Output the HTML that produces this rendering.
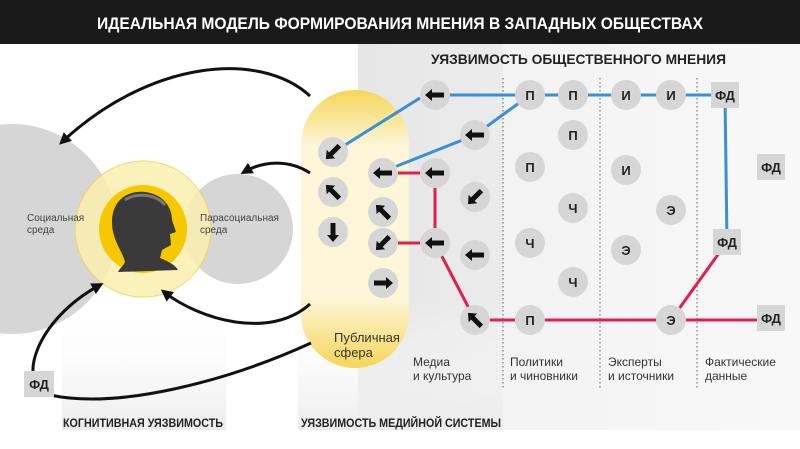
<!DOCTYPE html>
<html><head><meta charset="utf-8"><style>
html,body{margin:0;padding:0;background:#fff;width:800px;height:449px;overflow:hidden}
svg{display:block;font-family:"Liberation Sans",sans-serif}
</style></head><body>
<svg width="800" height="449" viewBox="0 0 800 449" xmlns="http://www.w3.org/2000/svg">
<defs>
<linearGradient id="gr" x1="0" y1="0" x2="1" y2="0"><stop offset="0" stop-color="#e6e6e6"/><stop offset="1" stop-color="#f7f7f7"/></linearGradient>
<linearGradient id="gb" x1="0" y1="0" x2="0" y2="1"><stop offset="0" stop-color="#fff" stop-opacity="0"/><stop offset="1" stop-color="#ececec"/></linearGradient>
<linearGradient id="pill" x1="0" y1="0" x2="0" y2="1"><stop offset="0" stop-color="#f5d657"/><stop offset="0.2" stop-color="#fdf6d8"/><stop offset="0.75" stop-color="#fdf6d8"/><stop offset="1" stop-color="#f5d657"/></linearGradient>
<g id="ar"><polygon points="-10,0 -3,-6 -3,-2.5 9,-2.5 9,2.5 -3,2.5 -3,6" fill="#111"/></g>
<marker id="mh" markerWidth="12" markerHeight="12" refX="8" refY="6" orient="auto" markerUnits="userSpaceOnUse"><polygon points="0,0 12,6 0,12" fill="#111"/></marker>
</defs>
<rect x="0" y="0" width="800" height="44" fill="#1a1a1a"/>
<text x="400" y="29" fill="#fff" font-size="17" font-weight="bold" text-anchor="middle" textLength="606" lengthAdjust="spacingAndGlyphs">ИДЕАЛЬНАЯ МОДЕЛЬ ФОРМИРОВАНИЯ МНЕНИЯ В ЗАПАДНЫХ ОБЩЕСТВАХ</text>
<rect x="358" y="44" width="442" height="386" fill="url(#gr)"/>
<rect x="503" y="44" width="297" height="386" fill="#fafafa" opacity="0.5"/>
<rect x="62" y="300" width="164" height="130" fill="url(#gb)"/>
<rect x="298" y="300" width="205" height="130" fill="url(#gb)"/>
<text x="431" y="64" font-size="14" font-weight="bold" fill="#222" textLength="295" lengthAdjust="spacingAndGlyphs">УЯЗВИМОСТЬ ОБЩЕСТВЕННОГО МНЕНИЯ</text>
<g stroke="#777" stroke-width="1.2" stroke-dasharray="1.5,2.5"><line x1="503" y1="78" x2="503" y2="390"/><line x1="600" y1="78" x2="600" y2="390"/><line x1="697" y1="78" x2="697" y2="390"/></g>
<circle cx="12" cy="229" r="105" fill="#d6d6d6"/>
<circle cx="238" cy="229" r="55" fill="#d6d6d6"/>
<circle cx="143" cy="229" r="68" fill="#fbefb0" opacity="0.85" stroke="#f2d44a" stroke-width="1"/>
<circle cx="143" cy="229" r="44" fill="#f5c800"/>
<path d="M125,262 C122,250 112,240 112,222 C112,200 128,190 145,192 C162,194 172,206 172,220 L176,232 L170,234 L171,245 L162,250 L160,258 C170,262 176,266 178,270 L118,272 C120,268 124,265 125,262Z" fill="#3a3a3a"/>
<path d="M125,200 C135,193 155,193 165,205" stroke="#777" stroke-width="3" fill="none"/>
<text x="27" y="221" font-size="10" fill="#444">Социальная</text><text x="27" y="233" font-size="10" fill="#444">среда</text>
<text x="200" y="221" font-size="10" fill="#444">Парасоциальная</text><text x="200" y="233" font-size="10" fill="#444">среда</text>
<rect x="301" y="90" width="108" height="278" rx="54" fill="url(#pill)"/>
<g fill="none" stroke="#111" stroke-width="3">
<path d="M310,96 C260,50 150,60 62,142" marker-end="url(#mh)"/>
<path d="M310,173 C290,160 265,160 244,172" marker-end="url(#mh)"/>
<path d="M310,304 C270,340 200,320 164,292" marker-end="url(#mh)"/>
<path d="M311,343 C230,380 120,410 50,395 C15,385 35,320 100,285" marker-end="url(#mh)"/>
</g>
<text x="334" y="342" font-size="13" fill="#333">Публичная</text><text x="334" y="357" font-size="13" fill="#333">сфера</text>
<g fill="none" stroke-width="3">
<path d="M345,145 L420,98 M435,95 L725,95 M725,95 L727,242 M392,168 L475,135 L530,95" stroke="#3a8fd6"/>
<path d="M395,173 L435,173 L435,243 L395,243 M435,243 L475,320 L770,320 M671,320 L727,242" stroke="#e0204a"/>
</g>
<g fill="#d6d6d6">
<circle cx="333" cy="152" r="15"/><circle cx="333" cy="192" r="15"/><circle cx="333" cy="232" r="15"/>
<circle cx="383" cy="173" r="15"/><circle cx="383" cy="212" r="15"/><circle cx="383" cy="243" r="15"/><circle cx="383" cy="283" r="15"/>
<circle cx="435" cy="95" r="15"/><circle cx="475" cy="135" r="15"/><circle cx="435" cy="173" r="15"/><circle cx="475" cy="197" r="15"/><circle cx="435" cy="243" r="15"/><circle cx="475" cy="255" r="15"/><circle cx="475" cy="320" r="15"/>
<circle cx="530" cy="95" r="15"/><circle cx="573" cy="95" r="15"/><circle cx="573" cy="135" r="15"/><circle cx="530" cy="167" r="15"/><circle cx="573" cy="208" r="15"/><circle cx="530" cy="243" r="15"/><circle cx="573" cy="282" r="15"/><circle cx="530" cy="320" r="15"/>
<circle cx="626" cy="95" r="15"/><circle cx="671" cy="95" r="15"/><circle cx="626" cy="170" r="15"/><circle cx="671" cy="210" r="15"/><circle cx="626" cy="250" r="15"/><circle cx="671" cy="320" r="15"/>
<rect x="711" y="82" width="28" height="26"/><rect x="757" y="154" width="28" height="26"/><rect x="713" y="229" width="28" height="26"/><rect x="757" y="305" width="28" height="26"/><rect x="24" y="371" width="30" height="26"/>
</g>
<use href="#ar" transform="translate(333,152) rotate(-45)"/><use href="#ar" transform="translate(333,192) rotate(45)"/><use href="#ar" transform="translate(333,232) rotate(-90)"/>
<use href="#ar" transform="translate(383,173)"/><use href="#ar" transform="translate(383,212) rotate(45)"/><use href="#ar" transform="translate(383,243) rotate(-45)"/><use href="#ar" transform="translate(383,283) rotate(180)"/>
<use href="#ar" transform="translate(435,95)"/><use href="#ar" transform="translate(475,135)"/><use href="#ar" transform="translate(435,173)"/><use href="#ar" transform="translate(475,197) rotate(-45)"/><use href="#ar" transform="translate(435,243)"/><use href="#ar" transform="translate(475,255)"/><use href="#ar" transform="translate(475,320) rotate(45)"/>
<g font-size="13" font-weight="bold" fill="#222" text-anchor="middle">
<text x="530" y="100">П</text><text x="573" y="100">П</text><text x="573" y="140">П</text><text x="530" y="172">П</text><text x="573" y="213">Ч</text><text x="530" y="248">Ч</text><text x="573" y="287">Ч</text><text x="530" y="325">П</text>
<text x="626" y="100">И</text><text x="671" y="100">И</text><text x="626" y="175">И</text><text x="671" y="215">Э</text><text x="626" y="255">Э</text><text x="671" y="325">Э</text>
<text x="725" y="100">ФД</text><text x="771" y="172">ФД</text><text x="727" y="247">ФД</text><text x="771" y="323">ФД</text><text x="39" y="389">ФД</text>
</g>
<g font-size="12" fill="#333">
<text x="413" y="366">Медиа</text><text x="413" y="380">и культура</text>
<text x="510" y="366">Политики</text><text x="510" y="380">и чиновники</text>
<text x="608" y="366">Эксперты</text><text x="608" y="380">и источники</text>
<text x="705" y="366">Фактические</text><text x="705" y="380">данные</text>
</g>
<text x="63" y="427" font-size="12" font-weight="bold" fill="#222" textLength="160" lengthAdjust="spacingAndGlyphs">КОГНИТИВНАЯ УЯЗВИМОСТЬ</text>
<text x="301" y="427" font-size="12" font-weight="bold" fill="#222" textLength="200" lengthAdjust="spacingAndGlyphs">УЯЗВИМОСТЬ МЕДИЙНОЙ СИСТЕМЫ</text>
</svg>
</body></html>
